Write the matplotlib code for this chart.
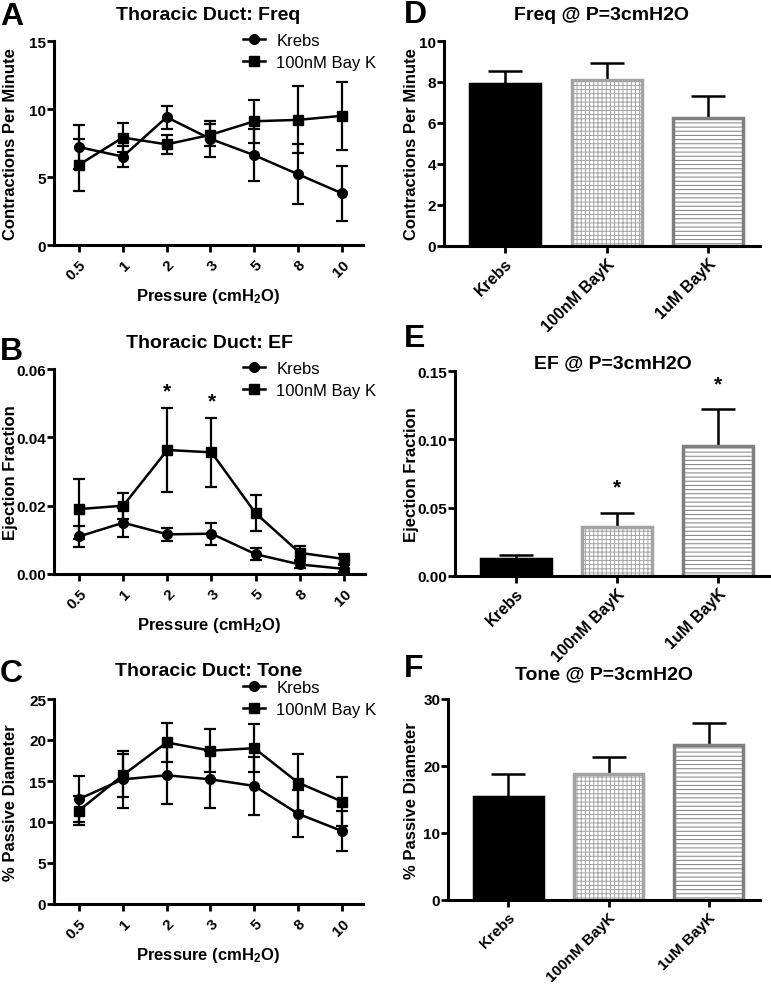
import numpy as np
import matplotlib
matplotlib.use('Agg')
import matplotlib.pyplot as plt
import matplotlib.transforms as mtransforms
from matplotlib.lines import Line2D

plt.rcParams['font.family'] = ['Liberation Sans', 'DejaVu Sans']
plt.rcParams['font.weight'] = 'bold'
plt.rcParams['mathtext.fontset'] = 'custom'
plt.rcParams['mathtext.rm'] = 'Liberation Sans:bold'
plt.rcParams['mathtext.it'] = 'Liberation Sans:bold'
plt.rcParams['mathtext.bf'] = 'Liberation Sans:bold'
plt.rcParams['hatch.linewidth'] = 0.7

# pressure series (panels A-C)
pressures = ['0.5', '1', '2', '3', '5', '8', '10']

freq_krebs = [7.2, 6.5, 9.4, 7.8, 6.6, 5.2, 3.8]
freq_krebs_err = [1.6, 0.8, 0.85, 1.35, 1.9, 2.2, 2.0]
freq_bayk = [5.9, 7.9, 7.4, 8.1, 9.1, 9.2, 9.5]
freq_bayk_err = [1.9, 1.05, 0.72, 0.8, 1.58, 2.46, 2.5]

ef_krebs = [0.011, 0.015, 0.0116, 0.0118, 0.0058, 0.0028, 0.0015]
ef_krebs_err = [0.003, 0.0042, 0.0018, 0.0032, 0.0018, 0.001, 0.001]
ef_bayk = [0.019, 0.020, 0.0363, 0.0356, 0.0178, 0.0062, 0.0044]
ef_bayk_err = [0.0088, 0.0038, 0.0122, 0.0102, 0.0052, 0.0021, 0.0015]
ef_stars = [2, 3]

tone_krebs = [12.8, 15.2, 15.7, 15.2, 14.4, 11.0, 8.9]
tone_krebs_err = [2.8, 3.45, 3.45, 3.46, 3.55, 2.85, 2.4]
tone_bayk = [11.4, 15.7, 19.7, 18.7, 19.0, 14.8, 12.5]
tone_bayk_err = [1.8, 2.65, 2.4, 2.65, 2.9, 3.45, 3.0]

# bar panels (D-F), at P = 3 cmH2O
groups = ['Krebs', '100nM BayK', '1uM BayK']
bar_freq = [7.9, 8.1, 6.25]
bar_freq_err = [0.62, 0.82, 1.08]
bar_ef = [0.0127, 0.0359, 0.0951]
bar_ef_err = [0.0024, 0.0102, 0.0268]
bar_ef_stars = [1, 2]
bar_tone = [15.4, 18.8, 23.2]
bar_tone_err = [3.4, 2.6, 3.2]

W, H = 771, 987
fig = plt.figure(figsize=(W / 100, H / 100), dpi=100)


def px_axes(left, top, right, bottom):
    return fig.add_axes([left / W, 1 - bottom / H, (right - left) / W, (bottom - top) / H])


def style_axes(ax, ylabel, label_x):
    for s in ['top', 'right']:
        ax.spines[s].set_visible(False)
    for s in ['left', 'bottom']:
        ax.spines[s].set_linewidth(2.2)
    ax.tick_params(width=2, length=5, labelsize=11, direction='out')
    ax.tick_params(axis='y', pad=0.5)
    ax.set_ylabel(ylabel, fontsize=12, fontweight='bold')
    trans = mtransforms.blended_transform_factory(fig.transFigure, ax.transAxes)
    ax.yaxis.set_label_coords(label_x / W, 0.5, transform=trans)


def line_panel(ax, k, ke, b, be, title, ylabel, yticks, fmt, leg_top, tpad):
    x = np.arange(len(pressures))
    ax.errorbar(x, k, yerr=ke, color='black', marker='o', ms=7, lw=1.8,
                elinewidth=1.6, capsize=4.5, capthick=1.6)
    ax.errorbar(x, b, yerr=be, color='black', marker='s', ms=7, lw=1.8,
                elinewidth=1.6, capsize=4.5, capthick=1.6)
    ax.set_xlim(-0.57, 6.48)
    ax.set_ylim(yticks[0], yticks[-1])
    ax.set_yticks(yticks)
    ax.set_yticklabels([fmt.format(v) for v in yticks])
    ax.set_xticks(x)
    ax.set_xticklabels(pressures, rotation=45, ha='right', rotation_mode='anchor')
    ax.set_xlabel(r'Pressure (cmH$_2$O)', fontsize=12, fontweight='bold', labelpad=3)
    ax.set_title(title, fontsize=14, fontweight='bold', pad=tpad)
    style_axes(ax, ylabel, 18)
    handles = [Line2D([], [], color='black', marker='o', ms=7, lw=1.8),
               Line2D([], [], color='black', marker='s', ms=7, lw=1.8)]
    ax.legend(handles, ['Krebs', '100nM Bay K'], frameon=False, loc='upper left',
              bbox_to_anchor=(243 / W, 1 - leg_top / H),
              bbox_transform=fig.transFigure, borderpad=0, borderaxespad=0,
              handlelength=1.3, handletextpad=0.7, labelspacing=0.4,
              prop={'size': 12, 'weight': 'normal'})


def bar_panel(ax, vals, errs, title, ylabel, yticks, fmt, pad, xsize=11.5):
    x = np.arange(len(groups))
    faces = ['black', 'white', 'white']
    edges = ['black', '#a3a3a3', '#7f7f7f']
    hatches = [None, '++++', '----']
    for i in x:
        ax.bar(i, vals[i], width=0.69, color=faces[i], edgecolor=edges[i],
               hatch=hatches[i], linewidth=2.5, zorder=2)
    ax.errorbar(x, vals, yerr=[np.zeros(len(errs)), errs], fmt='none', ecolor='black',
                elinewidth=1.8, capsize=12, capthick=1.8, zorder=1)
    ax.set_xlim(-0.6, 2.51)
    ax.set_ylim(yticks[0], yticks[-1])
    ax.set_yticks(yticks)
    ax.set_yticklabels([fmt.format(v) for v in yticks])
    ax.set_xticks(x)
    ax.set_xticklabels(groups, rotation=45, ha='right', rotation_mode='anchor')
    ax.set_title(title, fontsize=14, fontweight='bold', pad=pad)
    style_axes(ax, ylabel, 419)
    ax.tick_params(axis='x', labelsize=xsize, pad=2)


axA = px_axes(54, 42, 363, 246)
line_panel(axA, freq_krebs, freq_krebs_err, freq_bayk, freq_bayk_err,
           'Thoracic Duct: Freq', 'Contractions Per Minute', [0, 5, 10, 15], '{:g}', 34, 16)

axB = px_axes(54, 370, 365, 575)
line_panel(axB, ef_krebs, ef_krebs_err, ef_bayk, ef_bayk_err,
           'Thoracic Duct: EF', 'Ejection Fraction', [0, 0.02, 0.04, 0.06], '{:.2f}', 362, 16)
for i in ef_stars:
    axB.text(i, ef_bayk[i] + ef_bayk_err[i] + 0.005, '*', ha='center', va='center',
             fontsize=15, fontweight='bold')

axC = px_axes(54, 700, 363, 905)
line_panel(axC, tone_krebs, tone_krebs_err, tone_bayk, tone_bayk_err,
           'Thoracic Duct: Tone', '% Passive Diameter', [0, 5, 10, 15, 20, 25], '{:g}', 681, 17)

axD = px_axes(444, 42, 760, 247)
bar_panel(axD, bar_freq, bar_freq_err, 'Freq @ P=3cmH2O', 'Contractions Per Minute',
          [0, 2, 4, 6, 8, 10], '{:g}', 16)

axE = px_axes(455, 372, 770, 577)
bar_panel(axE, bar_ef, bar_ef_err, 'EF @ P=3cmH2O', 'Ejection Fraction',
          [0, 0.05, 0.10, 0.15], '{:.2f}', 3)
for i in bar_ef_stars:
    axE.text(i, bar_ef[i] + bar_ef_err[i] + 0.019, '*', ha='center', va='center',
             fontsize=15, fontweight='bold')

axF = px_axes(448, 700, 760, 901)
bar_panel(axF, bar_tone, bar_tone_err, 'Tone @ P=3cmH2O', '% Passive Diameter',
          [0, 10, 20, 30], '{:g}', 15, xsize=11)

# panel letters
for letter, lx, ly in [('A', 0, 25), ('B', 0, 360), ('C', 0, 682),
                       ('D', 404, 23), ('E', 404, 347), ('F', 404, 677)]:
    fig.text(lx / W, 1 - ly / H, letter, fontsize=23, fontweight='bold',
             ha='left', va='baseline')

fig.savefig('out.png', dpi=100)
